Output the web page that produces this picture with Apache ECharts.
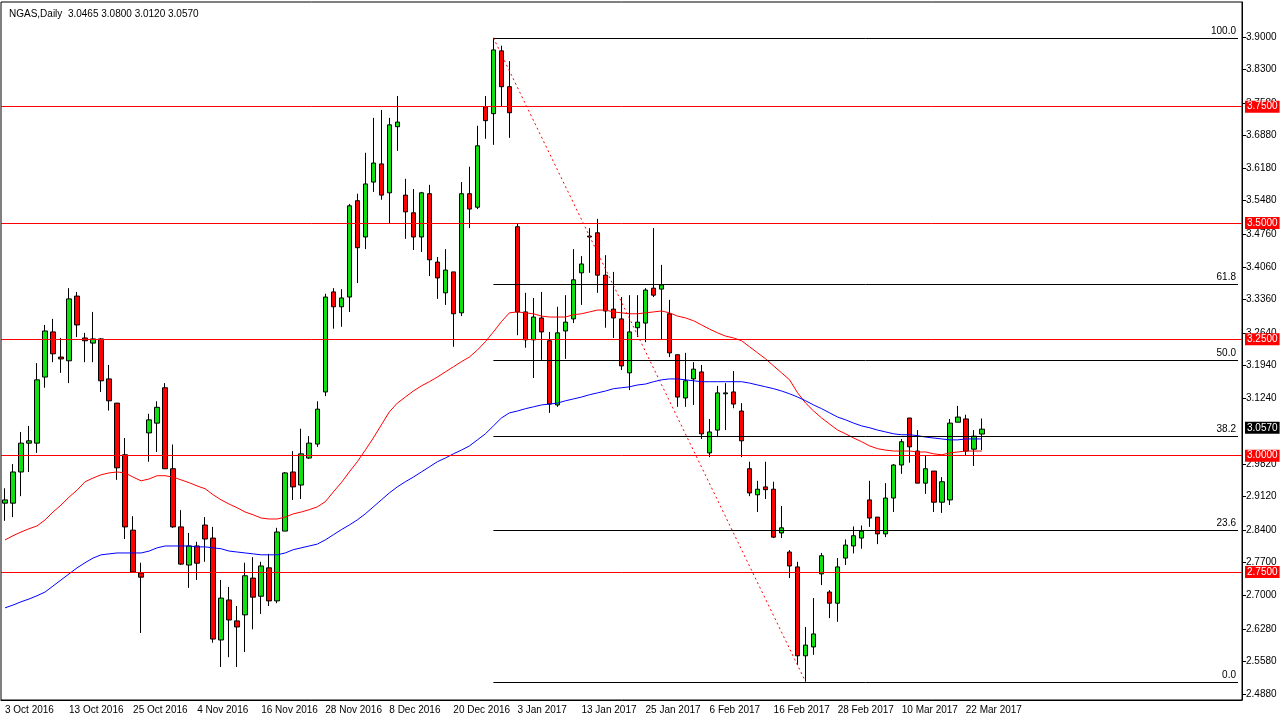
<!DOCTYPE html>
<html>
<head>
<meta charset="utf-8">
<script src="https://cdn.jsdelivr.net/npm/echarts@6/dist/echarts.min.js"></script>
<style>
	html, body {margin: 0; padding: 0; background: #fff;}
	#chart {width: 1284px; height: 722px;}
</style>
</head>
<body>
<div id="chart"></div>
<script>
const symbolTitle = 'NGAS,Daily  3.0465 3.0800 3.0120 3.0570'

// date labels, one every 8 bars starting at bar 0
const dateLabels = ['3 Oct 2016', '13 Oct 2016', '25 Oct 2016', '4 Nov 2016', '16 Nov 2016', '28 Nov 2016',
	'8 Dec 2016', '20 Dec 2016', '3 Jan 2017', '13 Jan 2017', '25 Jan 2017', '6 Feb 2017', '16 Feb 2017',
	'28 Feb 2017', '10 Mar 2017', '22 Mar 2017']

const opens = [2.898, 2.898, 2.965, 3.027, 3.027, 3.169, 3.266, 3.212, 3.204, 3.343,
	3.253, 3.242, 3.251, 3.165, 3.113, 3.002, 2.840, 2.748, 3.049, 3.070,
	3.146, 2.972, 2.847, 2.765, 2.806, 2.851, 2.823, 2.604, 2.690, 2.645,
	2.658, 2.737, 2.698, 2.759, 2.688, 2.838, 2.965, 2.937, 2.995, 3.025,
	3.137, 3.352, 3.320, 3.341, 3.548, 3.470, 3.588, 3.627, 3.565, 3.707,
	3.560, 3.522, 3.470, 3.563, 3.416, 3.350, 3.395, 3.307, 3.563, 3.534,
	3.750, 3.735, 3.870, 3.793, 3.492, 3.309, 3.249, 3.296, 3.247, 3.109,
	3.268, 3.294, 3.393, 3.472, 3.479, 3.388, 3.315, 3.294, 3.178, 3.275,
	3.285, 3.360, 3.358, 3.305, 3.217, 3.124, 3.165, 3.180, 3.006, 3.055,
	3.133, 3.137, 3.096, 2.972, 2.916, 2.933, 2.928, 2.834, 2.793, 2.761,
	2.570, 2.589, 2.746, 2.707, 2.683, 2.780, 2.806, 2.823, 2.905, 2.868,
	2.832, 2.909, 2.980, 3.081, 3.010, 2.941, 2.967, 2.900, 2.905, 3.072,
	3.079, 3.014, 3.0465]
const highs = [2.930, 2.982, 3.051, 3.064, 3.199, 3.281, 3.294, 3.253, 3.360, 3.352,
	3.264, 3.309, 3.253, 3.195, 3.113, 3.038, 2.870, 2.770, 3.090, 3.117,
	3.156, 3.024, 2.883, 2.834, 2.815, 2.868, 2.847, 2.733, 2.718, 2.677,
	2.770, 2.782, 2.772, 2.789, 2.845, 2.965, 3.010, 3.058, 3.042, 3.117,
	3.348, 3.360, 3.358, 3.541, 3.563, 3.651, 3.726, 3.743, 3.726, 3.773,
	3.595, 3.573, 3.567, 3.582, 3.427, 3.444, 3.395, 3.588, 3.621, 3.709,
	3.773, 3.898, 3.881, 3.848, 3.498, 3.350, 3.339, 3.352, 3.266, 3.320,
	3.345, 3.444, 3.429, 3.489, 3.509, 3.431, 3.395, 3.341, 3.345, 3.345,
	3.360, 3.489, 3.410, 3.335, 3.217, 3.221, 3.201, 3.195, 3.079, 3.150,
	3.156, 3.182, 3.113, 2.987, 2.946, 2.987, 2.944, 2.892, 2.797, 2.772,
	2.632, 2.694, 2.791, 2.711, 2.780, 2.820, 2.848, 2.850, 2.946, 2.868,
	2.941, 2.982, 3.036, 3.081, 3.055, 3.000, 2.967, 2.954, 3.079, 3.107,
	3.088, 3.055, 3.080]
const lows = [2.860, 2.868, 2.913, 2.965, 3.006, 3.146, 3.201, 3.178, 3.156, 3.255,
	3.201, 3.201, 3.137, 3.097, 2.948, 2.821, 2.748, 2.619, 2.987, 3.008,
	2.972, 2.845, 2.765, 2.716, 2.733, 2.772, 2.598, 2.546, 2.567, 2.546,
	2.578, 2.627, 2.660, 2.677, 2.683, 2.838, 2.905, 2.907, 2.993, 3.019,
	3.128, 3.273, 3.277, 3.309, 3.371, 3.444, 3.567, 3.550, 3.500, 3.655,
	3.466, 3.442, 3.438, 3.386, 3.337, 3.324, 3.234, 3.300, 3.489, 3.530,
	3.681, 3.668, 3.750, 3.683, 3.259, 3.232, 3.167, 3.206, 3.092, 3.105,
	3.208, 3.285, 3.324, 3.393, 3.350, 3.275, 3.253, 3.184, 3.141, 3.255,
	3.244, 3.341, 3.249, 3.212, 3.105, 3.105, 3.109, 3.036, 2.997, 3.040,
	3.055, 3.102, 2.997, 2.913, 2.879, 2.907, 2.823, 2.823, 2.737, 2.550,
	2.514, 2.572, 2.722, 2.651, 2.643, 2.765, 2.790, 2.800, 2.847, 2.810,
	2.825, 2.879, 2.961, 2.985, 2.941, 2.918, 2.879, 2.877, 2.894, 3.072,
	3.000, 2.978, 3.012]
const closes = [2.905, 2.965, 3.027, 3.032, 3.163, 3.268, 3.219, 3.208, 3.337, 3.281,
	3.247, 3.251, 3.161, 3.118, 2.974, 2.847, 2.750, 2.739, 3.077, 3.104,
	2.972, 2.847, 2.767, 2.806, 2.769, 2.821, 2.606, 2.694, 2.647, 2.632,
	2.742, 2.696, 2.763, 2.688, 2.836, 2.963, 2.933, 3.004, 3.027, 3.100,
	3.341, 3.320, 3.339, 3.537, 3.447, 3.584, 3.629, 3.560, 3.711, 3.717,
	3.524, 3.470, 3.565, 3.421, 3.382, 3.399, 3.305, 3.563, 3.530, 3.666,
	3.720, 3.872, 3.793, 3.737, 3.309, 3.249, 3.298, 3.266, 3.111, 3.264,
	3.287, 3.378, 3.412, 3.470, 3.388, 3.311, 3.296, 3.193, 3.266, 3.287,
	3.356, 3.345, 3.367, 3.221, 3.126, 3.161, 3.186, 3.047, 3.051, 3.135,
	3.135, 3.111, 3.032, 2.920, 2.928, 2.927, 2.825, 2.845, 2.763, 2.570,
	2.593, 2.617, 2.785, 2.683, 2.761, 2.808, 2.828, 2.838, 2.866, 2.832,
	2.909, 2.980, 3.030, 3.019, 2.941, 2.972, 2.900, 2.944, 3.070, 3.083,
	3.010, 3.042, 3.057]

// moving averages as drawn on the chart
const maRed = [2.819, 2.828, 2.836, 2.843, 2.849, 2.862, 2.879, 2.894, 2.911, 2.926,
	2.944, 2.952, 2.959, 2.963, 2.965, 2.963, 2.954, 2.946, 2.950, 2.957,
	2.957, 2.954, 2.948, 2.942, 2.935, 2.929, 2.916, 2.905, 2.896, 2.888,
	2.879, 2.873, 2.866, 2.864, 2.864, 2.868, 2.875, 2.879, 2.884, 2.890,
	2.901, 2.922, 2.942, 2.965, 2.987, 3.012, 3.038, 3.066, 3.094, 3.113,
	3.126, 3.139, 3.150, 3.159, 3.169, 3.180, 3.191, 3.202, 3.212, 3.227,
	3.245, 3.266, 3.288, 3.307, 3.309, 3.307, 3.305, 3.300, 3.298, 3.298,
	3.298, 3.303, 3.305, 3.309, 3.313, 3.313, 3.309, 3.307, 3.305, 3.305,
	3.307, 3.309, 3.311, 3.307, 3.300, 3.296, 3.290, 3.281, 3.272, 3.264,
	3.257, 3.253, 3.247, 3.234, 3.221, 3.208, 3.193, 3.178, 3.163, 3.135,
	3.113, 3.096, 3.081, 3.068, 3.055, 3.047, 3.038, 3.030, 3.021, 3.015,
	3.012, 3.010, 3.010, 3.010, 3.008, 3.008, 3.004, 3.002, 3.006, 3.008,
	3.010, 3.010, 3.010]
const maBlue = [2.673, 2.679, 2.686, 2.692, 2.699, 2.707, 2.720, 2.733, 2.746, 2.759,
	2.770, 2.780, 2.787, 2.789, 2.791, 2.791, 2.791, 2.791, 2.795, 2.802,
	2.806, 2.806, 2.806, 2.806, 2.804, 2.804, 2.802, 2.800, 2.795, 2.793,
	2.791, 2.789, 2.787, 2.787, 2.787, 2.791, 2.798, 2.802, 2.806, 2.810,
	2.819, 2.830, 2.841, 2.851, 2.862, 2.875, 2.890, 2.905, 2.920, 2.933,
	2.944, 2.954, 2.965, 2.976, 2.987, 2.995, 3.004, 3.012, 3.021, 3.034,
	3.047, 3.064, 3.081, 3.092, 3.096, 3.101, 3.105, 3.109, 3.111, 3.113,
	3.118, 3.122, 3.126, 3.131, 3.135, 3.139, 3.144, 3.146, 3.148, 3.152,
	3.154, 3.159, 3.163, 3.165, 3.165, 3.163, 3.161, 3.159, 3.159, 3.159,
	3.159, 3.159, 3.159, 3.156, 3.152, 3.148, 3.144, 3.139, 3.133, 3.126,
	3.118, 3.109, 3.101, 3.092, 3.083, 3.077, 3.070, 3.064, 3.060, 3.055,
	3.051, 3.047, 3.045, 3.045, 3.043, 3.040, 3.038, 3.036, 3.034, 3.034,
	3.036, 3.036, 3.036]

const priceTicks = [3.9, 3.83, 3.758, 3.688, 3.618, 3.548, 3.476, 3.406, 3.336, 3.264,
	3.194, 3.124, 2.982, 2.912, 2.84, 2.77, 2.7, 2.628, 2.558, 2.488]
const roundLevels = [3.75, 3.5, 3.25, 3.0, 2.75]
const fibLevels = [100.0, 61.8, 50.0, 38.2, 23.6, 0.0]
const fibHigh = 3.898
const fibLow = 2.514
const fibHighBar = 61
const fibLowBar = 100
const lastPrice = 3.057
const totalSlots = 155

const categories = Array.from({length: totalSlots}, (_, i) => String(i))
const candles = opens.map((o, i) => [o, closes[i], lows[i], highs[i]])
const FONT = 'Liberation Sans'

const fibLines = fibLevels.map(p => {
	const v = fibLow + (fibHigh - fibLow) * p / 100
	return [
		{coord: [fibHighBar, v], lineStyle: {color: '#000', width: 1, type: 'solid'},
			label: {show: true, position: 'insideEndTop', formatter: p.toFixed(1), color: '#000', fontSize: 10, fontFamily: FONT, distance: 2}},
		{coord: [totalSlots - 1, v]}
	]
})

const boxLabel = (v, bg) => ({
	show: true, position: 'end', formatter: v.toFixed(4), color: '#fff', backgroundColor: bg,
	fontSize: 10, fontFamily: FONT, padding: [1, 2], distance: 3
})

const chart = echarts.init(document.getElementById('chart'))
chart.setOption({
	animation: false,
	backgroundColor: '#fff',
	textStyle: {fontFamily: FONT},
	title: {
		text: symbolTitle, left: 4, top: 4,
		textStyle: {fontSize: 10, fontWeight: 'normal', color: '#000', fontFamily: FONT}
	},
	grid: {left: 1, right: 42, top: 2, bottom: 22, show: true, borderColor: '#000', borderWidth: 1},
	xAxis: {
		type: 'category',
		data: categories,
		boundaryGap: true,
		axisLine: {lineStyle: {color: '#000'}},
		axisTick: {interval: i => i % 8 === 0 && i / 8 < dateLabels.length, lineStyle: {color: '#000'}, length: 4},
		axisLabel: {
			interval: i => i % 8 === 0 && i / 8 < dateLabels.length,
			formatter: (v, i) => dateLabels[i / 8] || '',
			align: 'left', color: '#000', fontSize: 10, margin: 5, fontFamily: FONT
		},
		splitLine: {show: false}
	},
	yAxis: {
		type: 'value',
		position: 'right',
		min: 2.475, max: 3.975,
		axisLine: {show: true, lineStyle: {color: '#000'}},
		axisTick: {show: true, customValues: priceTicks, length: 4, lineStyle: {color: '#000'}},
		axisLabel: {customValues: priceTicks, formatter: v => v.toFixed(4), color: '#000', fontSize: 10, margin: 4, fontFamily: FONT},
		splitLine: {show: false}
	},
	series: [
		{
			type: 'candlestick',
			data: candles,
			barWidth: 5,
			itemStyle: {color: '#10e010', color0: '#ff0000', borderColor: '#000', borderColor0: '#000', borderWidth: 1},
			markLine: {
				silent: true, symbol: 'none', animation: false,
				data: [
					...roundLevels.map(v => ({
						yAxis: v,
						lineStyle: {color: '#ff0000', width: 1, type: 'solid'},
						label: boxLabel(v, '#ff0000')
					})),
					{
						yAxis: lastPrice,
						lineStyle: {color: 'rgba(0,0,0,0)', width: 1},
						label: boxLabel(lastPrice, '#000')
					},
					...fibLines,
					[
						{coord: [fibHighBar, fibHigh], lineStyle: {color: '#ff0000', width: 1, type: [2, 3]}, label: {show: false}},
						{coord: [fibLowBar, fibLow]}
					]
				]
			}
		},
		{type: 'line', data: maRed, symbol: 'none', lineStyle: {color: '#ff0000', width: 1}, z: 3},
		{type: 'line', data: maBlue, symbol: 'none', lineStyle: {color: '#0000ff', width: 1}, z: 3}
	]
})
</script>
</body>
</html>
